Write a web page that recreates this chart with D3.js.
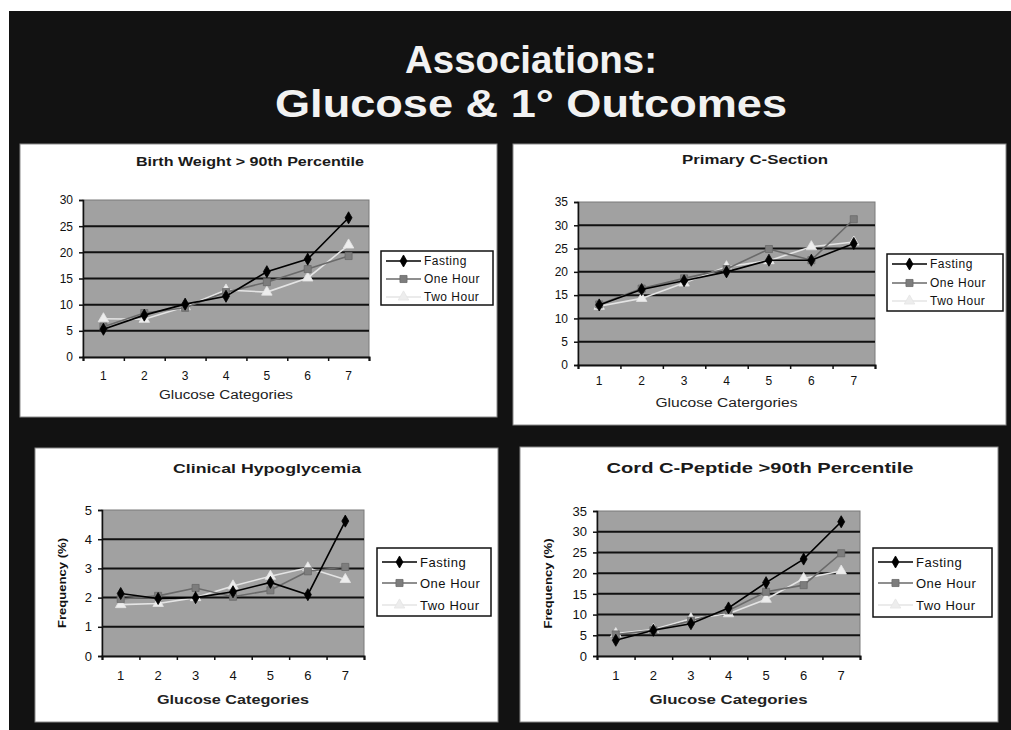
<!DOCTYPE html>
<html><head><meta charset="utf-8">
<script src="https://cdn.jsdelivr.net/npm/d3@7"></script>
<style>
html,body{margin:0;padding:0;background:#fff;}
svg{display:block;}
</style></head>
<body>
<svg id="c" width="1011" height="730"></svg>
<script>
// ---------- DATA ----------
const categories = [1, 2, 3, 4, 5, 6, 7];
const seriesNames = ["Fasting", "One Hour", "Two Hour"];

const birthWeightFasting = [5.3, 8.0, 10.1, 11.6, 16.3, 18.7, 26.6];
const birthWeightOneHour = [5.8, 8.4, 9.4, 12.4, 14.3, 16.8, 19.3];
const birthWeightTwoHour = [7.3, 7.2, 9.6, 12.8, 12.4, 15.1, 21.4];
const birthWeightTicks = [0, 5, 10, 15, 20, 25, 30];

const cSectionFasting = [12.9, 16.2, 18.1, 20.0, 22.5, 22.5, 26.1];
const cSectionOneHour = [13.0, 16.4, 18.6, 20.6, 24.9, 22.5, 31.3];
const cSectionTwoHour = [12.6, 14.3, 17.6, 21.1, 22.4, 25.4, 26.4];
const cSectionTicks = [0, 5, 10, 15, 20, 25, 30, 35];

const hypoFasting = [2.14, 1.97, 2.0, 2.2, 2.52, 2.1, 4.62];
const hypoOneHour = [1.95, 2.06, 2.33, 2.03, 2.25, 2.9, 3.05];
const hypoTwoHour = [1.76, 1.8, 2.0, 2.4, 2.73, 3.02, 2.62];
const hypoTicks = [0, 1, 2, 3, 4, 5];

const peptideFasting = [3.8, 6.2, 7.8, 11.6, 17.7, 23.4, 32.4];
const peptideOneHour = [5.2, 6.2, 8.5, 11.0, 15.5, 17.1, 24.8];
const peptideTwoHour = [5.4, 6.4, 9.0, 10.2, 13.7, 18.7, 20.5];
const peptideTicks = [0, 5, 10, 15, 20, 25, 30, 35];

const slideTitle1 = "Associations:";
const slideTitle2 = "Glucose & 1\u00B0 Outcomes";

// ---------- STYLE / LAYOUT ----------
const seriesStyle = [
  {color: "#000000", fill: "#000000", sym: d3.symbolDiamond, size: 42},
  {color: "#6a6a6a", fill: "#7d7d7d", sym: d3.symbolSquare, size: 50},
  {color: "#e4e4e4", fill: "#ededed", sym: d3.symbolTriangle, size: 48}
];

const panels = [
  {box: [20, 144, 497, 417], title: "Birth Weight > 90th Percentile", titleX: 250, titleY: 166, titleW: 228, titleSize: 12,
   plot: [83, 200, 369, 357], ticks: birthWeightTicks, data: [birthWeightFasting, birthWeightOneHour, birthWeightTwoHour],
   xTitle: "Glucose Categories", xTitleY: 399, xTitleW: 134, xTitleBold: false, xLabY: 380, yTitle: null,
   legend: [381, 251, 493, 305], legY: [261, 279, 297], labSize: 12},
  {box: [513, 144, 1006, 425], title: "Primary C-Section", titleX: 755, titleY: 164, titleW: 146, titleSize: 12,
   plot: [578, 202, 875, 365], ticks: cSectionTicks, data: [cSectionFasting, cSectionOneHour, cSectionTwoHour],
   xTitle: "Glucose Catergories", xTitleY: 407, xTitleW: 142, xTitleBold: false, xLabY: 385, yTitle: null,
   legend: [887, 254, 1003, 311], legY: [264, 283, 301], labSize: 12},
  {box: [35, 448, 498, 722], title: "Clinical Hypoglycemia", titleX: 267, titleY: 473, titleW: 188, titleSize: 13,
   plot: [102, 510, 364, 656], ticks: hypoTicks, data: [hypoFasting, hypoOneHour, hypoTwoHour],
   xTitle: "Glucose Categories", xTitleY: 704, xTitleW: 152, xTitleBold: true, xLabY: 680, yTitle: "Frequency (%)", yTitleX: 62,
   legend: [377, 548, 491, 616], legY: [562, 583, 605], labSize: 13},
  {box: [520, 447, 998, 722], title: "Cord C-Peptide >90th Percentile", titleX: 760, titleY: 473, titleW: 307, titleSize: 14,
   plot: [597, 511, 860, 656], ticks: peptideTicks, data: [peptideFasting, peptideOneHour, peptideTwoHour],
   xTitle: "Glucose Categories", xTitleY: 704, xTitleW: 158, xTitleBold: true, xLabY: 680, yTitle: "Frequency (%)", yTitleX: 548,
   legend: [873, 548, 992, 617], legY: [562, 583, 605], labSize: 13}
];

const svg = d3.select("#c");
const FONT = "Arial, 'Liberation Sans', Helvetica, sans-serif";

// slide background
svg.append("rect").attr("x", 0).attr("y", 0).attr("width", 1011).attr("height", 730).attr("fill", "#ffffff");
svg.append("rect").attr("x", 9).attr("y", 11).attr("width", 1002).attr("height", 719).attr("fill", "#121212");

// slide title
const tFont = "'Liberation Sans Narrow', 'Arial Narrow', Arial, sans-serif";
svg.append("text").attr("x", 531).attr("y", 73).attr("text-anchor", "middle")
  .attr("font-family", tFont).attr("font-weight", "bold").attr("font-size", 38).attr("fill", "#f2f2f2")
  .attr("textLength", 252).attr("lengthAdjust", "spacingAndGlyphs").text(slideTitle1);
svg.append("text").attr("x", 531).attr("y", 117).attr("text-anchor", "middle")
  .attr("font-family", tFont).attr("font-weight", "bold").attr("font-size", 38).attr("fill", "#f2f2f2")
  .attr("textLength", 512).attr("lengthAdjust", "spacingAndGlyphs").text(slideTitle2);

panels.forEach(p => {
  const g = svg.append("g");
  const [bx0, by0, bx1, by1] = p.box;
  g.append("rect").attr("x", bx0).attr("y", by0).attr("width", bx1 - bx0).attr("height", by1 - by0)
    .attr("fill", "#ffffff").attr("stroke", "#8a8a8a").attr("stroke-width", 1);

  // title
  g.append("text").attr("x", p.titleX).attr("y", p.titleY).attr("text-anchor", "middle")
    .attr("font-family", FONT).attr("font-weight", "bold").attr("font-size", p.titleSize).attr("fill", "#1a1a1a")
    .attr("textLength", p.titleW).attr("lengthAdjust", "spacingAndGlyphs").text(p.title);

  const [px0, py0, px1, py1] = p.plot;
  const yMax = p.ticks[p.ticks.length - 1];
  const y = d3.scaleLinear().domain([0, yMax]).range([py1, py0]);
  const xb = d3.scaleBand().domain(categories).range([px0, px1]);
  const xc = d => xb(d) + xb.bandwidth() / 2;

  // plot area
  g.append("rect").attr("x", px0).attr("y", py0).attr("width", px1 - px0).attr("height", py1 - py0)
    .attr("fill", "#a1a1a1").attr("stroke", "#7a7a7a").attr("stroke-width", 1);

  // gridlines
  g.append("g").selectAll("line").data(p.ticks.filter(t => t > 0 && t < yMax)).join("line")
    .attr("x1", px0).attr("x2", px1).attr("y1", d => y(d)).attr("y2", d => y(d))
    .attr("stroke", "#111").attr("stroke-width", 2);

  // y axis
  const ya = g.append("g").attr("transform", `translate(${px0},0)`)
    .call(d3.axisLeft(y).tickValues(p.ticks).tickSize(4).tickPadding(6).tickFormat(d3.format("d")));
  ya.select(".domain").attr("stroke", "#111").attr("stroke-width", 1.5);
  ya.selectAll(".tick line").attr("stroke", "#111").attr("stroke-width", 1.5);
  ya.selectAll("text").attr("font-family", FONT).attr("font-size", p.labSize).attr("fill", "#111");

  // x axis
  const xa = g.append("g").attr("transform", `translate(0,${py1})`)
    .call(d3.axisBottom(d3.scaleLinear().domain([0, categories.length]).range([px0, px1]))
      .tickValues(d3.range(categories.length + 1)).tickSize(4).tickFormat(""));
  xa.select(".domain").attr("stroke", "#111").attr("stroke-width", 2);
  xa.selectAll(".tick line").attr("stroke", "#111").attr("stroke-width", 1.5);
  g.append("g").selectAll("text").data(categories).join("text")
    .attr("x", d => xc(d)).attr("y", p.xLabY).attr("text-anchor", "middle")
    .attr("font-family", FONT).attr("font-size", p.labSize).attr("fill", "#111").text(d => d);

  // x title
  g.append("text").attr("x", (px0 + px1) / 2).attr("y", p.xTitleY).attr("text-anchor", "middle")
    .attr("font-family", FONT).attr("font-weight", p.xTitleBold ? "bold" : "normal").attr("font-size", 12)
    .attr("fill", "#222").attr("textLength", p.xTitleW).attr("lengthAdjust", "spacingAndGlyphs").text(p.xTitle);

  if (p.yTitle) {
    g.append("text").attr("transform", `translate(${p.yTitleX},${(py0 + py1) / 2}) rotate(-90)`)
      .attr("text-anchor", "middle").attr("dy", "0.35em")
      .attr("font-family", FONT).attr("font-weight", "bold").attr("font-size", 11).attr("fill", "#111")
      .attr("textLength", 90).attr("lengthAdjust", "spacingAndGlyphs").text(p.yTitle);
  }

  // series lines & markers
  const line = d3.line().x((d, i) => xc(categories[i])).y(d => y(d));
  [2, 1, 0].forEach(si => {
    const st = seriesStyle[si];
    const vals = p.data[si];
    g.append("path").datum(vals).attr("d", line).attr("fill", "none")
      .attr("stroke", st.color).attr("stroke-width", 1.6);
    g.append("g").selectAll("path").data(vals).join("path")
      .attr("transform", (d, i) => `translate(${xc(categories[i])},${y(d)})`)
      .attr("d", d3.symbol().type(st.sym).size(st.size))
      .attr("fill", st.fill).attr("stroke", st.color).attr("stroke-width", 0.8);
  });

  // legend
  const [lx0, ly0, lx1, ly1] = p.legend;
  g.append("rect").attr("x", lx0).attr("y", ly0).attr("width", lx1 - lx0).attr("height", ly1 - ly0)
    .attr("fill", "#ffffff").attr("stroke", "#111").attr("stroke-width", 1.5);
  seriesNames.forEach((name, si) => {
    const st = seriesStyle[si];
    const ly = p.legY[si];
    const l0 = lx0 + 5, l1 = lx0 + 40;
    g.append("line").attr("x1", l0).attr("x2", l1).attr("y1", ly).attr("y2", ly)
      .attr("stroke", st.color).attr("stroke-width", 1.6);
    g.append("path").attr("transform", `translate(${(l0 + l1) / 2},${ly})`)
      .attr("d", d3.symbol().type(st.sym).size(st.size)).attr("fill", st.fill).attr("stroke", st.color).attr("stroke-width", 0.8);
    g.append("text").attr("x", l1 + 3).attr("y", ly).attr("dy", "0.35em")
      .attr("font-family", FONT).attr("font-size", p.labSize).attr("fill", "#111")
      .style("letter-spacing", "0.5px").text(name);
  });
});
</script>
</body></html>
